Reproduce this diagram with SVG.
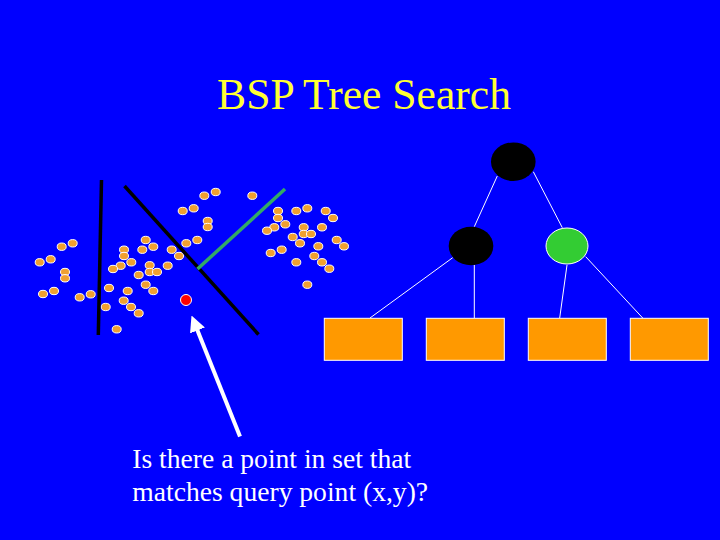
<svg xmlns="http://www.w3.org/2000/svg" width="720" height="540" viewBox="0 0 720 540">
<style>
.dot{fill:#F0A030;stroke:#FFFFFF;stroke-width:1}
.edge{stroke:#FFFFFF;stroke-width:1;fill:none}
.leaf{fill:#FF9900;stroke:#FFFFFF;stroke-width:1}
.txt{font-family:"Liberation Serif","Times New Roman",serif}
</style>
<defs>
<marker id="ah" markerWidth="4" markerHeight="4" refX="2" refY="2" orient="auto" markerUnits="strokeWidth">
<path d="M0,0 L4,2 L0,4 Z" fill="#FFFFFF"/>
</marker>
</defs>
<rect width="720" height="540" fill="#0000FF"/>
<text class="txt" x="364" y="109" font-size="43.6" fill="#FFFF33" text-anchor="middle">BSP Tree Search</text>
<g id="points">
<ellipse class="dot" cx="204.3" cy="195.7" rx="4.5" ry="3.7"/>
<ellipse class="dot" cx="215.7" cy="192" rx="4.5" ry="3.7"/>
<ellipse class="dot" cx="252.3" cy="195.7" rx="4.5" ry="3.7"/>
<ellipse class="dot" cx="182.7" cy="211" rx="4.5" ry="3.7"/>
<ellipse class="dot" cx="193.7" cy="208.3" rx="4.5" ry="3.7"/>
<ellipse class="dot" cx="207.7" cy="221" rx="4.5" ry="3.7"/>
<ellipse class="dot" cx="207.7" cy="227" rx="4.5" ry="3.7"/>
<ellipse class="dot" cx="186.3" cy="243.3" rx="4.5" ry="3.7"/>
<ellipse class="dot" cx="197.3" cy="240" rx="4.5" ry="3.7"/>
<ellipse class="dot" cx="61.7" cy="246.7" rx="4.5" ry="3.7"/>
<ellipse class="dot" cx="72.7" cy="243.3" rx="4.5" ry="3.7"/>
<ellipse class="dot" cx="145.7" cy="240" rx="4.5" ry="3.7"/>
<ellipse class="dot" cx="153.3" cy="246.7" rx="4.5" ry="3.7"/>
<ellipse class="dot" cx="124" cy="249.7" rx="4.5" ry="3.7"/>
<ellipse class="dot" cx="142.3" cy="249.7" rx="4.5" ry="3.7"/>
<ellipse class="dot" cx="171.7" cy="249.7" rx="4.5" ry="3.7"/>
<ellipse class="dot" cx="179" cy="256" rx="4.5" ry="3.7"/>
<ellipse class="dot" cx="124" cy="256" rx="4.5" ry="3.7"/>
<ellipse class="dot" cx="50.7" cy="259.3" rx="4.5" ry="3.7"/>
<ellipse class="dot" cx="39.7" cy="262.3" rx="4.5" ry="3.7"/>
<ellipse class="dot" cx="131.3" cy="262.3" rx="4.5" ry="3.7"/>
<ellipse class="dot" cx="120.7" cy="265.7" rx="4.5" ry="3.7"/>
<ellipse class="dot" cx="113" cy="269" rx="4.5" ry="3.7"/>
<ellipse class="dot" cx="149.7" cy="265.3" rx="4.5" ry="3.7"/>
<ellipse class="dot" cx="167.7" cy="265.7" rx="4.5" ry="3.7"/>
<ellipse class="dot" cx="65" cy="272" rx="4.5" ry="3.7"/>
<ellipse class="dot" cx="65" cy="278.3" rx="4.5" ry="3.7"/>
<ellipse class="dot" cx="149.7" cy="272" rx="4.5" ry="3.7"/>
<ellipse class="dot" cx="157" cy="272" rx="4.5" ry="3.7"/>
<ellipse class="dot" cx="138.7" cy="275" rx="4.5" ry="3.7"/>
<ellipse class="dot" cx="145.7" cy="284.7" rx="4.5" ry="3.7"/>
<ellipse class="dot" cx="153.3" cy="291" rx="4.5" ry="3.7"/>
<ellipse class="dot" cx="43" cy="294" rx="4.5" ry="3.7"/>
<ellipse class="dot" cx="54" cy="291" rx="4.5" ry="3.7"/>
<ellipse class="dot" cx="109" cy="288" rx="4.5" ry="3.7"/>
<ellipse class="dot" cx="127.7" cy="291" rx="4.5" ry="3.7"/>
<ellipse class="dot" cx="79.7" cy="297.3" rx="4.5" ry="3.7"/>
<ellipse class="dot" cx="90.7" cy="294.3" rx="4.5" ry="3.7"/>
<ellipse class="dot" cx="123.7" cy="300.7" rx="4.5" ry="3.7"/>
<ellipse class="dot" cx="105.7" cy="307" rx="4.5" ry="3.7"/>
<ellipse class="dot" cx="131" cy="307" rx="4.5" ry="3.7"/>
<ellipse class="dot" cx="138.7" cy="313.3" rx="4.5" ry="3.7"/>
<ellipse class="dot" cx="116.7" cy="329.3" rx="4.5" ry="3.7"/>
<ellipse class="dot" cx="278" cy="211" rx="4.5" ry="3.7"/>
<ellipse class="dot" cx="278" cy="218" rx="4.5" ry="3.7"/>
<ellipse class="dot" cx="296.3" cy="211" rx="4.5" ry="3.7"/>
<ellipse class="dot" cx="307.3" cy="208.3" rx="4.5" ry="3.7"/>
<ellipse class="dot" cx="325.7" cy="211" rx="4.5" ry="3.7"/>
<ellipse class="dot" cx="333" cy="218" rx="4.5" ry="3.7"/>
<ellipse class="dot" cx="285.3" cy="224.3" rx="4.5" ry="3.7"/>
<ellipse class="dot" cx="274.3" cy="227.3" rx="4.5" ry="3.7"/>
<ellipse class="dot" cx="267" cy="230.7" rx="4.5" ry="3.7"/>
<ellipse class="dot" cx="303.7" cy="227.3" rx="4.5" ry="3.7"/>
<ellipse class="dot" cx="303.7" cy="234" rx="4.5" ry="3.7"/>
<ellipse class="dot" cx="311" cy="234" rx="4.5" ry="3.7"/>
<ellipse class="dot" cx="322" cy="227.3" rx="4.5" ry="3.7"/>
<ellipse class="dot" cx="292.7" cy="237" rx="4.5" ry="3.7"/>
<ellipse class="dot" cx="300" cy="243.3" rx="4.5" ry="3.7"/>
<ellipse class="dot" cx="318.3" cy="246.3" rx="4.5" ry="3.7"/>
<ellipse class="dot" cx="336.7" cy="240" rx="4.5" ry="3.7"/>
<ellipse class="dot" cx="344" cy="246.3" rx="4.5" ry="3.7"/>
<ellipse class="dot" cx="270.7" cy="253" rx="4.5" ry="3.7"/>
<ellipse class="dot" cx="281.7" cy="249.7" rx="4.5" ry="3.7"/>
<ellipse class="dot" cx="314.3" cy="256" rx="4.5" ry="3.7"/>
<ellipse class="dot" cx="296.3" cy="262.3" rx="4.5" ry="3.7"/>
<ellipse class="dot" cx="322" cy="262.3" rx="4.5" ry="3.7"/>
<ellipse class="dot" cx="329.3" cy="268.7" rx="4.5" ry="3.7"/>
<ellipse class="dot" cx="307.3" cy="284.7" rx="4.5" ry="3.7"/>
</g>
<g id="splits">
<line x1="101.5" y1="180" x2="98.3" y2="335" stroke="#000000" stroke-width="3.5"/>
<line x1="124.5" y1="186" x2="258.5" y2="334.5" stroke="#000000" stroke-width="3.5"/>
<line x1="285" y1="189" x2="197.5" y2="269" stroke="#33AA66" stroke-width="3.5"/>
</g>
<g id="query">
<circle cx="186" cy="300" r="5.5" fill="#FF0000" stroke="#FFFFFF" stroke-width="1"/>
</g>
<g id="connectors">
<line x1="240" y1="436.5" x2="194.5" y2="323" stroke="#FFFFFF" stroke-width="4" marker-end="url(#ah)"/>
<line class="edge" x1="497.3" y1="176" x2="474.3" y2="226.7"/>
<line class="edge" x1="533.3" y1="171.7" x2="562.3" y2="227.7"/>
<line class="edge" x1="452.7" y1="257.7" x2="370" y2="318"/>
<line class="edge" x1="474.3" y1="265" x2="474.3" y2="318"/>
<line class="edge" x1="567" y1="265" x2="559.7" y2="318"/>
<line class="edge" x1="585.7" y1="256.7" x2="642.7" y2="318"/>
</g>
<g id="root"><ellipse cx="513.3" cy="161.7" rx="22.3" ry="19.3" fill="#000000"/></g>
<g id="left"><ellipse cx="471" cy="246" rx="22.3" ry="19.3" fill="#000000"/></g>
<g id="right"><ellipse cx="567" cy="246" rx="21" ry="18" fill="#33CC33" stroke="#FFFFFF" stroke-width="1"/></g>
<g id="leaf1"><rect class="leaf" x="324.3" y="318.3" width="78" height="42"/></g>
<g id="leaf2"><rect class="leaf" x="426.3" y="318.3" width="78" height="42"/></g>
<g id="leaf3"><rect class="leaf" x="528.3" y="318.3" width="78" height="42"/></g>
<g id="leaf4"><rect class="leaf" x="630.3" y="318.3" width="78" height="42"/></g>
<text class="txt" font-size="27.6" fill="#FFFFFF"><tspan x="132.3" y="467.5">Is there a point in set that</tspan><tspan x="132.3" y="500.5">matches query point (x,y)?</tspan></text>
</svg>
